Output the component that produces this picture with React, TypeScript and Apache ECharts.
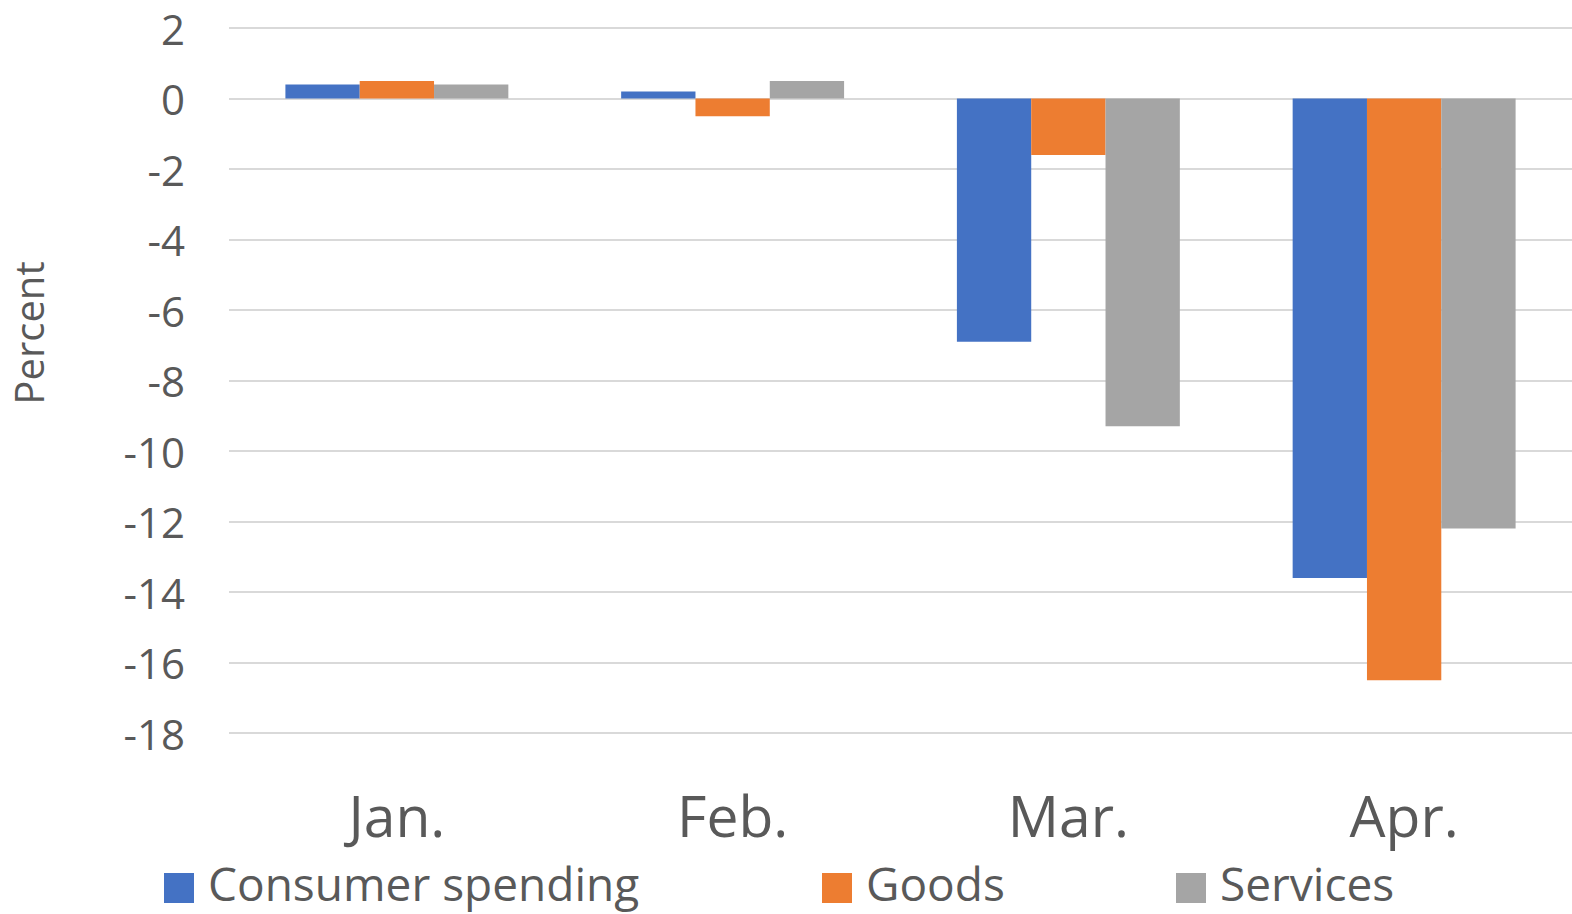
import React, { useEffect, useRef } from "react";
import * as echarts from "echarts";

const categories = ["Jan.", "Feb.", "Mar.", "Apr."];
const consumerSpending = [0.4, 0.2, -6.9, -13.6];
const goods = [0.5, -0.5, -1.6, -16.5];
const services = [0.4, 0.5, -9.3, -12.2];
const seriesNames = ["Consumer spending", "Goods", "Services"];
const colors = ["#4472C4", "#ED7D31", "#A5A5A5"];
const FONT = "Open Sans";
const TEXT = "#595959";

export default function App() {
  const ref = useRef<HTMLDivElement>(null);
  useEffect(() => {
    if (!ref.current) return;
    const chart = echarts.init(ref.current, undefined, { renderer: "svg" });
    const values = [consumerSpending, goods, services];
    const legendLefts = [164, 822, 1176];
    chart.setOption({
      animation: false,
      backgroundColor: "#ffffff",
      grid: { left: 229, right: 0, top: 28, bottom: 181, containLabel: false },
      legend: seriesNames.map((n, i) => ({
        data: [n],
        left: legendLefts[i],
        top: 860,
        padding: 0,
        itemWidth: 30,
        itemHeight: 30,
        icon: "rect",
        formatter: (name: string) => `{t|${name}}`,
        textStyle: {
          fontFamily: FONT,
          fontSize: 47,
          color: TEXT,
          rich: {
            t: {
              fontFamily: FONT,
              fontSize: 46,
              lineHeight: 44,
              color: TEXT,
              padding: [0, 0, 10, 9],
            },
          },
        },
      })),
      xAxis: {
        type: "category",
        data: categories,
        position: "bottom",
        axisLine: { show: false, onZero: false },
        axisTick: { show: false },
        axisLabel: { fontFamily: FONT, fontSize: 57, color: TEXT, margin: 53 },
      },
      yAxis: {
        type: "value",
        min: -18,
        max: 2,
        interval: 2,
        axisLine: { show: false },
        axisTick: { show: false },
        axisLabel: { fontFamily: FONT, fontSize: 42, color: TEXT, margin: 44 },
        splitLine: { lineStyle: { color: "#d9d9d9", width: 2 } },
      },
      graphic: [
        {
          type: "text",
          x: 28,
          y: 333,
          rotation: Math.PI / 2,
          style: {
            text: "Percent",
            fontFamily: FONT,
            fontSize: 40,
            fill: TEXT,
            align: "center",
            verticalAlign: "middle",
          },
        },
      ],
      series: seriesNames.map((n, i) => ({
        name: n,
        type: "bar",
        data: values[i],
        barGap: "0%",
        barCategoryGap: "33.6%",
        itemStyle: { color: colors[i] },
      })),
    });
    return () => chart.dispose();
  }, []);
  return (
    <div
      ref={ref}
      style={{ position: "fixed", left: 0, top: 0, width: 1572, height: 914 }}
    />
  );
}
